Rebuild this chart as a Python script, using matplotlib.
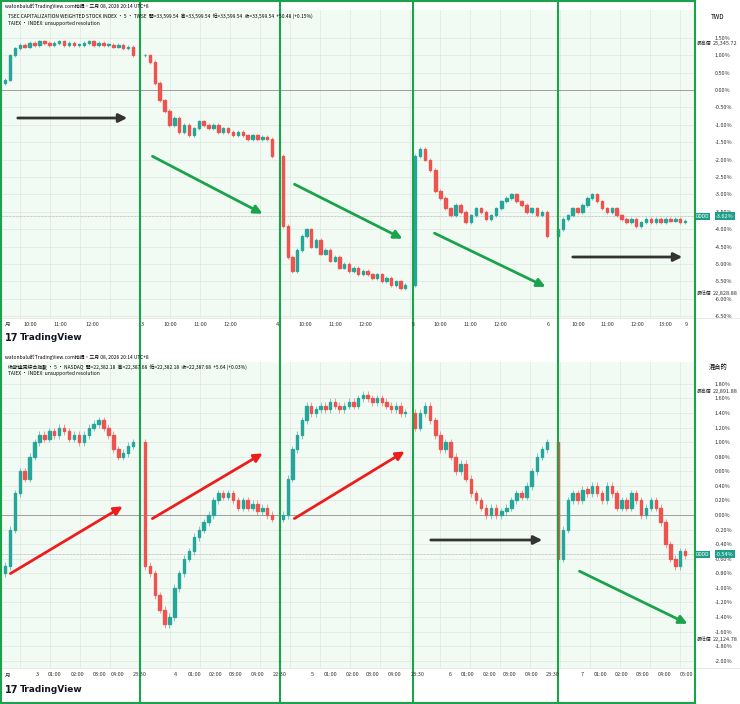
import numpy as np
import matplotlib.pyplot as plt
from matplotlib.patches import Rectangle

plt.rcParams['font.family'] = ['Noto Sans CJK TC', 'DejaVu Sans']

# closes (% change) per session
twse_sessions = [
    [0.3, 1.0, 1.2, 1.3, 1.25, 1.35, 1.3, 1.4, 1.35, 1.3, 1.35, 1.4, 1.3, 1.35, 1.3, 1.3, 1.35, 1.4, 1.3, 1.35, 1.3, 1.3, 1.25, 1.3, 1.2, 1.25, 1.0],
    [1.0, 0.8, 0.2, -0.3, -0.6, -1.0, -0.8, -1.2, -1.0, -1.3, -1.1, -0.9, -1.0, -1.1, -1.0, -1.2, -1.1, -1.2, -1.3, -1.2, -1.3, -1.4, -1.3, -1.4, -1.35, -1.4, -1.9],
    [-3.9, -4.8, -5.2, -4.6, -4.2, -4.0, -4.5, -4.3, -4.7, -4.6, -4.9, -4.8, -5.1, -5.0, -5.2, -5.1, -5.3, -5.2, -5.3, -5.4, -5.3, -5.5, -5.4, -5.6, -5.5, -5.7, -5.6],
    [-1.9, -1.7, -2.0, -2.3, -2.9, -3.1, -3.4, -3.6, -3.3, -3.5, -3.8, -3.6, -3.4, -3.5, -3.7, -3.6, -3.4, -3.2, -3.1, -3.0, -3.2, -3.3, -3.5, -3.4, -3.6, -3.5, -4.2],
    [-4.0, -3.7, -3.6, -3.4, -3.5, -3.3, -3.1, -3.0, -3.2, -3.4, -3.5, -3.4, -3.6, -3.7, -3.8, -3.7, -3.9, -3.8, -3.7, -3.8, -3.7, -3.8, -3.7, -3.75, -3.7, -3.8, -3.75],
]
nasdaq_sessions = [
    [-0.7, -0.2, 0.3, 0.6, 0.5, 0.8, 1.0, 1.1, 1.05, 1.15, 1.1, 1.2, 1.15, 1.05, 1.1, 1.0, 1.1, 1.2, 1.25, 1.3, 1.2, 1.1, 0.9, 0.8, 0.85, 0.95, 1.0],
    [-0.7, -0.8, -1.1, -1.3, -1.5, -1.4, -1.0, -0.8, -0.6, -0.5, -0.3, -0.2, -0.1, 0.0, 0.2, 0.3, 0.25, 0.3, 0.2, 0.1, 0.2, 0.1, 0.15, 0.05, 0.1, 0.0, -0.05],
    [0.0, 0.5, 0.9, 1.1, 1.3, 1.5, 1.4, 1.45, 1.5, 1.45, 1.55, 1.5, 1.45, 1.5, 1.55, 1.5, 1.6, 1.65, 1.6, 1.55, 1.6, 1.55, 1.5, 1.45, 1.5, 1.4, 1.4],
    [1.2, 1.4, 1.5, 1.3, 1.1, 0.9, 1.0, 0.8, 0.6, 0.7, 0.5, 0.3, 0.2, 0.1, 0.0, 0.1, 0.0, 0.05, 0.1, 0.2, 0.3, 0.25, 0.4, 0.6, 0.8, 0.9, 1.0],
    [-0.6, -0.2, 0.2, 0.3, 0.2, 0.35, 0.3, 0.4, 0.3, 0.2, 0.4, 0.3, 0.1, 0.2, 0.1, 0.3, 0.2, 0.0, 0.1, 0.2, 0.1, -0.1, -0.4, -0.6, -0.7, -0.5, -0.55],
]
session_bounds = [(5, 138), (145, 277), (283, 410), (415, 552), (558, 690)]
dividers = [140, 280, 413, 558, 695]

top_ticks = [1.5, 1.0, 0.5, 0.0, -0.5, -1.0, -1.5, -2.0, -2.5, -3.0, -3.5, -4.0, -4.5, -5.0, -5.5, -6.0, -6.5]
bot_ticks = [1.8, 1.6, 1.4, 1.2, 1.0, 0.8, 0.6, 0.4, 0.2, 0.0, -0.2, -0.4, -0.6, -0.8, -1.0, -1.2, -1.4, -1.6, -1.8, -2.0]

top_xlabels = [(8, '月'), (30, '10:00'), (60, '11:00'), (92, '12:00'), (142, '3'), (170, '10:00'), (200, '11:00'),
               (230, '12:00'), (277, '4'), (305, '10:00'), (335, '11:00'), (365, '12:00'), (413, '5'), (440, '10:00'),
               (470, '11:00'), (500, '12:00'), (548, '6'), (578, '10:00'), (607, '11:00'), (637, '12:00'),
               (665, '13:00'), (686, '9')]
bot_xlabels = [(8, '月'), (37, '3'), (55, '01:00'), (78, '02:00'), (100, '03:00'), (118, '04:00'), (140, '23:30'),
               (175, '4'), (195, '01:00'), (216, '02:00'), (236, '03:00'), (258, '04:00'), (280, '22:30'), (312, '5'),
               (331, '01:00'), (353, '02:00'), (373, '03:00'), (395, '04:00'), (418, '23:30'), (450, '6'),
               (468, '01:00'), (490, '02:00'), (510, '03:00'), (532, '04:00'), (553, '23:30'), (582, '7'),
               (601, '01:00'), (622, '02:00'), (643, '03:00'), (665, '04:00'), (687, '05:00')]

UP, DOWN = '#26a69a', '#ef5350'
W, H = 740, 704
fig = plt.figure(figsize=(7.4, 7.04), dpi=100)
fig.patch.set_facecolor('white')


def make_panel(top, bottom, ylo, yhi, ticks, sessions, last, tag, hi_lbl, lo_lbl, hi_y, lo_y):
    ax = fig.add_axes([0, 1 - bottom / H, 695 / W, (bottom - top) / H])
    ax.set_xlim(0, 695)
    ax.set_ylim(ylo, yhi)
    ax.set_facecolor('#f1fbf4')
    for s in ax.spines.values():
        s.set_visible(False)
    ax.yaxis.tick_right()
    ax.set_yticks(ticks)
    ax.set_yticklabels([f'{t:.2f}%' for t in ticks], fontsize=4, color='#333333')
    ax.tick_params(axis='y', length=0, pad=14)
    ax.set_xticks([])
    for t in ticks:
        ax.axhline(t, color='#dde8e0', lw=0.5, zorder=0)
    for x in np.arange(20, 695, 30):
        ax.axvline(x, color='#dde8e0', lw=0.5, zorder=0)
    ax.axhline(0, color='#9e9e9e', lw=0.7, zorder=1)
    ax.axhline(last, color='#9e9e9e', lw=0.5, ls=(0, (1, 1)), zorder=1)
    prev = None
    for (x0, x1), closes in zip(session_bounds, sessions):
        step = (x1 - x0) / len(closes)
        for i, c in enumerate(closes):
            o = prev if prev is not None else c - 0.1
            x = x0 + i * step
            col = UP if c >= o else DOWN
            lo, hi = min(o, c), max(o, c)
            ax.vlines(x, lo - 0.05, hi + 0.05, color=col, lw=0.4, zorder=2)
            ax.add_patch(Rectangle((x - step * 0.25, lo), step * 0.5, max(hi - lo, 0.02), color=col, zorder=3))
            prev = c
    tr = ax.get_yaxis_transform()
    ax.text(1.043, last, tag, transform=tr, fontsize=4, color='white', ha='center', va='center',
            bbox=dict(boxstyle='square,pad=0.25', fc='#1e9e8a', ec='none'))
    ax.text(1.011, last, 'DDDD', transform=tr, fontsize=3.5, color='white', ha='center',
            va='center', bbox=dict(boxstyle='square,pad=0.2', fc='#1e9e8a', ec='none'))
    for yv, lbl, name in [(hi_y, hi_lbl, '最高價'), (lo_y, lo_lbl, '最低價')]:
        ax.text(1.003, yv, name, transform=tr, fontsize=3.5, color='#333333', va='center')
        ax.text(1.025, yv, lbl, transform=tr, fontsize=4, color='#333333', va='center')
    return ax


make_panel(10, 318, -6.55, 2.3, top_ticks, twse_sessions, -3.62, '-3.62%', '25,345.72', '22,828.88', 1.35, -5.85)
make_panel(362, 668, -2.1, 2.1, bot_ticks, nasdaq_sessions, -0.54, '-0.54%', '22,891.88', '22,124.78', 1.7, -1.71)

# overlay in pixel coordinates for annotations
ov = fig.add_axes([0, 0, 1, 1], facecolor='none')
ov.set_xlim(0, W)
ov.set_ylim(H, 0)
ov.axis('off')

for xl, lbl in top_xlabels:
    ov.text(xl, 324, lbl, fontsize=4, ha='center', va='center', color='#333333')
for xl, lbl in bot_xlabels:
    ov.text(xl, 675, lbl, fontsize=4, ha='center', va='center', color='#333333')
ov.plot([0, 740], [318, 318], color='#e0e0e0', lw=0.5)
ov.plot([0, 740], [668, 668], color='#e0e0e0', lw=0.5)
ov.plot([695, 695], [0, 704], color='#e0e0e0', lw=0.5)

ov.text(5, 6, 'watonbalu於TradingView.com拍攝，三月 08, 2026 20:14 UTC+8', fontsize=3.5, va='center')
ov.text(8, 16, 'TSEC CAPITALIZATION WEIGHTED STOCK INDEX · 5 · TWSE  開=33,599.54  高=33,599.54  低=33,599.54  收=33,599.54  +50.48 (+0.15%)',
        fontsize=3.5, va='center')
ov.text(8, 23, 'TAIEX · INDEX: unsupported resolution', fontsize=3.5, va='center')
ov.text(5, 357, 'watonbalu於TradingView.com拍攝，三月 08, 2026 20:14 UTC+8', fontsize=3.5, va='center')
ov.text(8, 367, '納斯達克綜合指數 · 5 · NASDAQ  開=22,382.18  高=22,387.68  低=22,382.18  收=22,387.68  +5.64 (+0.03%)',
        fontsize=3.5, va='center')
ov.text(8, 374, 'TAIEX · INDEX: unsupported resolution', fontsize=3.5, va='center')
ov.text(711, 17, 'TWD', fontsize=4.5, va='center')
ov.text(709, 367, '混合的', fontsize=4.5, va='center')
for ly in (338, 690):
    ov.text(5, ly, '17', fontsize=7, fontweight='heavy', va='center', color='#131722', family='DejaVu Sans')
    ov.text(20, ly, 'TradingView', fontsize=6.5, fontweight='bold', va='center', color='#131722', family='DejaVu Sans')

# session dividers
for xd in dividers:
    ov.plot([xd, xd], [0, 704], color='#1aa34a', lw=1.5)
ov.plot([1, 1], [0, 704], color='#1aa34a', lw=1.5)
ov.plot([0, 695], [1, 1], color='#1aa34a', lw=1.5)
ov.plot([0, 695], [703, 703], color='#1aa34a', lw=1.5)

arrows = [((15, 118), (130, 118), '#333333'), ((150, 155), (265, 215), '#1aa34a'),
          ((292, 183), (405, 240), '#1aa34a'), ((432, 232), (548, 288), '#1aa34a'),
          ((570, 257), (685, 257), '#333333'), ((8, 575), (125, 505), '#ee1c1c'),
          ((150, 520), (265, 452), '#ee1c1c'), ((292, 520), (407, 450), '#ee1c1c'),
          ((428, 540), (545, 540), '#333333'), ((577, 570), (690, 625), '#1aa34a')]
for (x0, y0), (x1, y1), c in arrows:
    ov.annotate('', xy=(x1, y1), xytext=(x0, y0),
                arrowprops=dict(arrowstyle='-|>,head_length=0.5,head_width=0.25', color=c, lw=2))

fig.savefig('out.png', dpi=100)
